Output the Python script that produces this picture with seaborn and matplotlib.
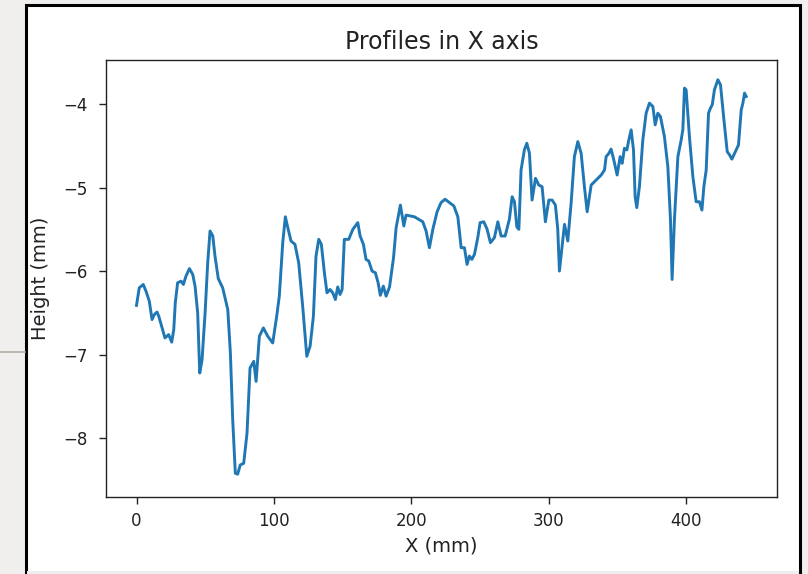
import matplotlib
matplotlib.use("Agg")
import matplotlib.pyplot as plt
import matplotlib.patches as mpatches
import matplotlib.lines as mlines
import seaborn as sns
import pandas as pd

x_mm = [0.0, 2.0, 4.9, 6.9, 9.3, 11.3, 13.0, 14.9, 16.2, 18.3, 20.7, 23.4, 25.6, 27.1, 28.2,
        29.9, 32.4, 34.1, 36.0, 38.5, 40.9, 42.6, 44.5, 46.0, 47.7, 49.9, 51.8, 53.5, 55.5,
        57.1, 59.5, 62.7, 66.4, 68.3, 70.0, 71.9, 73.6, 75.5, 78.0, 80.4, 82.6, 85.3, 87.0,
        89.4, 92.3, 95.5, 99.1, 102.0, 103.9, 106.4, 108.3, 109.5, 112.4, 115.3, 118.0,
        120.9, 123.9, 126.3, 128.7, 130.6, 132.6, 134.5, 136.7, 138.6, 140.8, 142.8, 144.7,
        146.4, 148.1, 149.6, 151.2, 154.4, 157.4, 161.0, 162.7, 165.1, 167.0, 169.0, 171.4,
        173.8, 175.8, 177.4, 179.6, 181.6, 184.1, 187.0, 188.9, 192.0, 194.5, 196.1, 202.2,
        208.3, 210.7, 213.1, 215.6, 218.7, 221.6, 224.5, 227.7, 230.9, 233.8, 236.2, 238.6,
        240.5, 242.2, 244.0, 245.9, 248.3, 250.0, 252.7, 255.1, 257.5, 260.4, 262.9, 265.3,
        268.2, 271.3, 273.3, 275.0, 276.7, 278.2, 279.8, 282.2, 284.0, 285.9, 287.8, 290.3,
        292.7, 295.1, 297.5, 300.0, 302.4, 304.8, 306.5, 307.7, 309.7, 311.4, 313.8, 316.2,
        318.6, 321.1, 323.5, 325.9, 327.9, 330.8, 334.4, 338.1, 340.5, 341.7, 343.7, 345.3,
        347.0, 349.7, 351.9, 353.4, 355.0, 356.8, 358.2, 359.9, 361.6, 362.8, 364.0, 365.9,
        368.4, 370.8, 373.2, 375.7, 377.4, 379.3, 381.2, 384.1, 386.6, 388.5, 389.7, 391.4,
        393.9, 396.3, 397.5, 398.7, 399.9, 402.3, 404.8, 407.2, 409.6, 411.4, 412.8, 414.5,
        416.2, 417.6, 418.9, 420.5, 423.0, 424.9, 427.4, 429.8, 431.5, 433.2, 434.6, 436.3,
        438.0, 440.0, 441.2, 442.4, 443.6]

height_mm = [-6.41, -6.20, -6.16, -6.24, -6.36, -6.58, -6.52, -6.49, -6.54, -6.66, -6.80, -6.76,
             -6.85, -6.70, -6.38, -6.14, -6.12, -6.16, -6.06, -5.97, -6.04, -6.18, -6.50, -7.22,
             -7.06, -6.50, -5.90, -5.52, -5.58, -5.82, -6.09, -6.20, -6.46, -6.98, -7.78, -8.42,
             -8.43, -8.32, -8.30, -7.94, -7.16, -7.08, -7.32, -6.78, -6.68, -6.78, -6.86, -6.54,
             -6.30, -5.66, -5.35, -5.44, -5.64, -5.68, -5.90, -6.42, -7.02, -6.90, -6.54, -5.82,
             -5.62, -5.68, -6.02, -6.26, -6.22, -6.26, -6.34, -6.19, -6.28, -6.22, -5.62, -5.62,
             -5.50, -5.42, -5.58, -5.68, -5.86, -5.88, -6.00, -6.02, -6.14, -6.29, -6.18, -6.30,
             -6.19, -5.84, -5.48, -5.21, -5.46, -5.33, -5.35, -5.41, -5.52, -5.72, -5.50, -5.29,
             -5.18, -5.14, -5.18, -5.22, -5.35, -5.72, -5.72, -5.92, -5.82, -5.86, -5.80, -5.60,
             -5.42, -5.41, -5.50, -5.66, -5.60, -5.41, -5.58, -5.58, -5.38, -5.11, -5.17, -5.47,
             -5.50, -4.79, -4.55, -4.47, -4.59, -5.15, -4.89, -4.97, -4.99, -5.41, -5.15, -5.15,
             -5.21, -5.50, -6.00, -5.70, -5.44, -5.64, -5.19, -4.63, -4.45, -4.59, -4.99, -5.29,
             -4.97, -4.91, -4.85, -4.79, -4.63, -4.59, -4.54, -4.65, -4.85, -4.63, -4.71, -4.53,
             -4.55, -4.43, -4.31, -4.55, -5.11, -5.24, -4.99, -4.43, -4.11, -3.99, -4.03, -4.25,
             -4.11, -4.15, -4.39, -4.75, -5.38, -6.10, -5.38, -4.63, -4.43, -4.31, -3.81, -3.83,
             -4.39, -4.87, -5.17, -5.17, -5.27, -4.99, -4.79, -4.11, -4.05, -4.01, -3.83, -3.71,
             -3.77, -4.19, -4.57, -4.61, -4.66, -4.61, -4.55, -4.49, -4.07, -3.99, -3.87, -3.91]

x_ticks = [0, 100, 200, 300, 400]
y_ticks = [-8, -7, -6, -5, -4]
title = "Profiles in X axis"
x_label = "X (mm)"
y_label = "Height (mm)"

W, H = 808, 574
fig = plt.figure(figsize=(W / 100, H / 100), dpi=100, facecolor="#f0efee")

# white framed window of the screenshot
fig.patches.append(mpatches.Rectangle((25.5 / W, -0.02), (800 - 25.5) / W, 1.02 - 4.5 / H,
                                      transform=fig.transFigure, facecolor="white",
                                      edgecolor="black", linewidth=2.2, zorder=-2))
fig.patches.append(mpatches.Rectangle((27 / W, 0), (799 - 27) / W, 3 / H,
                                      transform=fig.transFigure, facecolor="#eeeeee",
                                      edgecolor="none", zorder=-1))
fig.lines.append(mlines.Line2D([0, 24.5 / W], [1 - 351.5 / H, 1 - 351.5 / H],
                               transform=fig.transFigure, color="#b5aca4", linewidth=1.2,
                               zorder=-1))

ax = fig.add_axes([106 / W, (H - 496.7) / H, (776.7 - 106) / W, (496.7 - 59.7) / H])
ax.set_zorder(5)
ax.set_facecolor("white")

df = pd.DataFrame({"x": x_mm, "h": height_mm})
sns.lineplot(data=df, x="x", y="h", ax=ax, color="#1f77b4", linewidth=2.1,
             sort=False, estimator=None)
for ln in ax.get_lines():
    ln.set_solid_joinstyle("round")

ax.set_xlim(-22.2, 465.8)
ax.set_ylim(-8.70, -3.47)
ax.set_xticks(x_ticks)
ax.set_yticks(y_ticks)
ax.set_xticklabels([str(t) for t in x_ticks])
ax.set_yticklabels(["\u2212" + str(abs(t)) for t in y_ticks])
ax.tick_params(axis="both", labelsize=12, length=5, width=1.0, pad=6, color="#222222",
               labelcolor="#222222")
ax.tick_params(axis="y", pad=8)
for s in ax.spines.values():
    s.set_linewidth(1.0)
    s.set_color("#222222")

ax.set_title(title, fontsize=17, pad=8, color="#222222")
ax.set_xlabel(x_label, fontsize=14, labelpad=5, color="#222222")
ax.set_ylabel(y_label, fontsize=14, labelpad=10, color="#222222")

fig.savefig("out.png", dpi=100, facecolor=fig.get_facecolor())
